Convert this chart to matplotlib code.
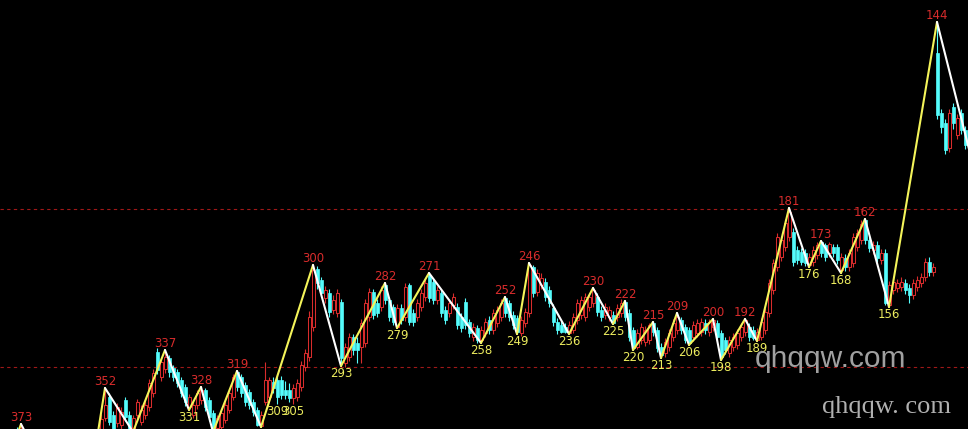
import numpy as np
import matplotlib
matplotlib.use("Agg")
import matplotlib.pyplot as plt

# bars ago of each candle (oldest visible first), price in chart units
bars_ago = np.arange(378, 134, -1)

opens = [
    -25, -38, -22, -10, -2, -10, -5, -25, -42, -32,
    -55, -65, -52, -75, -88, -78, -95, -102, -94, -104,
    -108, -96, -80, -55, -30, -6, 11, 32, 14, 6,
    4, 29, 14, -1, 14, 7, 14, 22, 36, 77,
    52, 60, 71, 61, 57, 49, 42, 22, 14, 24,
    29, 39, 29, 16, 1, 2, 9, 19, 32, 57,
    52, 44, 37, 27, 19, 3, 27, 32, 47, 49,
    49, 39, 39, 31, 32, 42, 62, 72, 102, 160,
    149, 131, 136, 119, 116, 127, 66, 72, 92, 86,
    82, 86, 112, 137, 126, 122, 144, 129, 122, 102,
    121, 112, 144, 116, 112, 122, 132, 154, 147, 129,
    136, 119, 116, 124, 122, 112, 127, 107, 92, 101,
    89, 96, 109, 99, 106, 112, 131, 126, 114, 111,
    96, 106, 116, 162, 137, 144, 147, 139, 121, 107,
    104, 102, 96, 99, 109, 114, 112, 122, 126, 132,
    119, 114, 112, 114, 112, 116, 127, 116, 99, 82,
    89, 87, 89, 106, 99, 82, 76, 82, 92, 99,
    109, 102, 99, 92, 96, 97, 106, 97, 102, 106,
    96, 89, 76, 82, 84, 92, 97, 102, 99, 89,
    92, 99, 116, 139, 162, 172, 182, 192, 197, 179,
    177, 176, 164, 167, 174, 187, 184, 176, 182, 182,
    159, 171, 162, 166, 182, 189, 209, 189, 179, 184,
    169, 176, 124, 139, 141, 142, 146, 141, 134, 142,
    146, 152, 167, 157, 376, 316, 306, 281, 322, 294,
    316, 299, 284, 266,
]
highs = [
    -20, -15, -5, 0, 2, 5, -2, -20, -28, -30,
    -50, -48, -50, -70, -72, -75, -90, -88, -90, -100,
    -92, -76, -50, -25, -2, 15, 41, 36, 18, 26,
    22, 32, 18, 14, 30, 24, 28, 50, 60, 81,
    72, 79, 74, 64, 60, 52, 45, 35, 28, 39,
    42, 41, 32, 19, 14, 20, 28, 40, 55, 58,
    55, 47, 40, 30, 22, 18, 67, 52, 52, 54,
    53, 48, 46, 45, 50, 68, 80, 118, 164, 163,
    152, 143, 140, 134, 140, 130, 86, 96, 95, 92,
    110, 130, 141, 140, 130, 143, 146, 132, 125, 125,
    125, 146, 146, 120, 130, 140, 150, 156, 150, 143,
    140, 123, 130, 136, 126, 116, 131, 110, 106, 104,
    103, 111, 113, 120, 123, 130, 132, 129, 118, 114,
    113, 121, 166, 164, 160, 156, 151, 143, 125, 111,
    108, 106, 108, 116, 130, 133, 136, 136, 141, 136,
    123, 126, 123, 118, 125, 130, 128, 120, 102, 100,
    106, 103, 106, 107, 102, 86, 91, 100, 110, 116,
    112, 105, 102, 108, 110, 111, 110, 110, 110, 109,
    99, 92, 93, 96, 100, 106, 110, 106, 103, 101,
    111, 121, 150, 170, 196, 193, 210, 221, 201, 183,
    181, 180, 176, 183, 187, 188, 186, 187, 185, 185,
    176, 175, 180, 196, 200, 209, 210, 193, 188, 188,
    180, 180, 148, 151, 150, 152, 150, 145, 150, 153,
    156, 171, 172, 166, 407, 320, 310, 320, 326, 315,
    320, 303, 288, 279,
]
lows = [
    -40, -42, -25, -14, -12, -14, -28, -45, -46, -58,
    -68, -70, -78, -90, -90, -98, -104, -106, -108, -108,
    -110, -100, -84, -58, -34, -10, 8, 4, -8, 2,
    0, 8, -6, -3, 10, 4, 10, 18, 32, 55,
    48, 56, 52, 48, 42, 32, 23, 19, 11, 20,
    25, 18, 8, -3, -2, 0, 6, 16, 29, 38,
    32, 23, 20, 13, 3, 2, 24, 28, 36, 25,
    30, 30, 27, 25, 28, 38, 58, 68, 98, 140,
    132, 126, 112, 115, 112, 63, 62, 68, 74, 66,
    66, 82, 108, 110, 112, 118, 125, 108, 104, 101,
    105, 108, 104, 103, 108, 118, 128, 127, 125, 125,
    112, 105, 112, 120, 100, 97, 100, 92, 88, 86,
    86, 92, 95, 95, 102, 108, 112, 108, 100, 95,
    93, 102, 112, 132, 133, 140, 128, 122, 103, 95,
    96, 96, 95, 96, 105, 110, 108, 118, 122, 113,
    108, 110, 108, 105, 108, 112, 108, 88, 79, 80,
    85, 83, 85, 93, 77, 71, 72, 78, 88, 95,
    95, 86, 84, 88, 92, 93, 95, 93, 98, 88,
    69, 75, 72, 78, 80, 88, 93, 88, 89, 88,
    89, 95, 112, 135, 158, 168, 178, 188, 163, 165,
    164, 163, 162, 163, 170, 172, 168, 172, 172, 165,
    156, 158, 158, 162, 178, 185, 185, 177, 175, 167,
    165, 124, 122, 135, 137, 138, 135, 126, 130, 138,
    142, 148, 153, 153, 310, 296, 275, 277, 300, 290,
    295, 280, 266, 264,
]
closes = [
    -35, -20, -8, -2, -8, -2, -25, -40, -30, -55,
    -62, -50, -75, -85, -76, -95, -100, -92, -104, -106,
    -96, -80, -55, -30, -5, 10, 24, 7, -4, 22,
    17, 12, -3, 11, 27, 19, 24, 46, 56, 59,
    67, 72, 57, 52, 46, 36, 27, 32, 24, 36,
    39, 22, 12, -1, 11, 16, 24, 36, 52, 42,
    36, 27, 24, 17, 4, 14, 49, 49, 41, 32,
    34, 34, 31, 41, 46, 64, 76, 112, 159, 146,
    136, 139, 117, 129, 136, 71, 82, 92, 79, 79,
    106, 126, 137, 114, 116, 139, 129, 112, 107, 121,
    109, 142, 107, 107, 126, 136, 146, 131, 129, 139,
    116, 109, 126, 132, 104, 101, 104, 96, 102, 89,
    99, 107, 99, 116, 119, 126, 116, 112, 104, 97,
    109, 117, 164, 136, 156, 151, 132, 126, 107, 99,
    97, 97, 104, 112, 126, 129, 132, 132, 139, 117,
    112, 122, 119, 106, 121, 126, 112, 92, 81, 96,
    102, 99, 104, 97, 81, 74, 87, 96, 106, 112,
    99, 89, 86, 104, 106, 107, 99, 107, 109, 92,
    72, 79, 89, 92, 96, 102, 109, 92, 91, 97,
    107, 117, 146, 166, 192, 189, 206, 217, 167, 169,
    167, 166, 172, 179, 184, 176, 172, 185, 176, 169,
    172, 162, 176, 192, 196, 205, 189, 181, 184, 171,
    176, 126, 144, 147, 146, 147, 139, 134, 146, 149,
    152, 167, 157, 162, 314, 302, 279, 316, 306, 311,
    299, 284, 270, 275,
]

# zigzag turning points (bars ago, price)
pivot_bars = [377, 373, 358, 352, 345, 337, 331, 328, 325, 319, 313, 300, 293,
              282, 279, 271, 258, 252, 249, 246, 236, 230, 225, 222, 220, 215,
              213, 209, 206, 200, 198, 192, 189, 181, 176, 173, 168, 162, 156,
              144, 135]
pivot_vals = [-40, 5, -110, 41, -3, 79, 19, 42, -3, 58, 2, 164, 63,
              146, 101, 156, 86, 132, 95, 166, 95, 141, 105, 128, 79, 107,
              71, 116, 84, 110, 69, 110, 88, 221, 162, 188, 156, 210, 122,
              407, 264]

high_label_bars = [373, 352, 337, 328, 319, 300, 282, 271, 252, 246, 230, 222,
                   215, 209, 200, 192, 181, 173, 162, 144]
high_label_vals = [5, 41, 79, 42, 58, 164, 146, 156, 132, 166, 141, 128,
                   107, 116, 110, 110, 221, 188, 210, 407]
low_label_bars = [331, 309, 305, 293, 279, 258, 249, 236, 225, 220, 213, 206,
                  198, 189, 176, 168, 156, 135]
low_label_vals = [19, 25, 25, 63, 101, 86, 95, 95, 105, 79, 71, 84,
                  69, 88, 162, 156, 122, 264]

guide_levels = [220, 62]

RED = '#d82c2c'
CYAN = '#54fcfc'
YELLOW = '#f4f45a'

fig = plt.figure(figsize=(9.68, 4.29), dpi=100, facecolor='black')
ax = fig.add_axes([0, 0, 1, 1])
ax.set_facecolor('black')
ax.set_xlim(-378.25, -136.25)
ax.set_ylim(0, 429)
ax.axis('off')

x = -bars_ago
o = np.array(opens)
h = np.array(highs)
l = np.array(lows)
c = np.array(closes)
up = c >= o
col = np.where(up, RED, CYAN)

for lev in guide_levels:
    ax.axhline(lev, color='#a01818', lw=0.8, linestyle=(0, (3, 3)), zorder=1)

ax.vlines(x, l, h, colors=col, lw=0.8, zorder=2)
body_lo = np.minimum(o, c)
body_h = np.abs(c - o)
ax.bar(x[up], body_h[up], bottom=body_lo[up], width=0.75,
       facecolor='black', edgecolor=RED, linewidth=0.75, zorder=3)
ax.bar(x[~up], body_h[~up], bottom=body_lo[~up], width=0.75,
       facecolor=CYAN, edgecolor=CYAN, linewidth=0.5, zorder=3)

# zigzag: rising legs yellow, falling legs white
for k in range(len(pivot_bars) - 1):
    v0, v1 = pivot_vals[k], pivot_vals[k + 1]
    ax.plot([-pivot_bars[k], -pivot_bars[k + 1]], [v0, v1],
            color=YELLOW if v1 > v0 else 'white', lw=1.5, zorder=4,
            solid_capstyle='round')

for b, v in zip(high_label_bars, high_label_vals):
    ax.annotate(str(b), (-b, v), xytext=(0, 3), textcoords='offset pixels',
                ha='center', va='baseline', color=RED, fontsize=8.5, zorder=5)
for b, v in zip(low_label_bars, low_label_vals):
    ax.annotate(str(b), (-b, v), xytext=(0, -11), textcoords='offset pixels',
                ha='center', va='baseline', color='#ecec5e', fontsize=8.5, zorder=5)

# watermarks
fig.text(755 / 968, 1 - 367 / 429, 'qhqqw.com', color='#a0a0a0',
         fontsize=21.5, family='Liberation Sans', va='baseline', ha='left')
fig.text(822 / 968, 1 - 413 / 429, 'qhqqw. com', color='#b0b0b0',
         fontsize=19, family='Liberation Serif', va='baseline', ha='left')

fig.savefig('out.png', dpi=100, facecolor='black')
